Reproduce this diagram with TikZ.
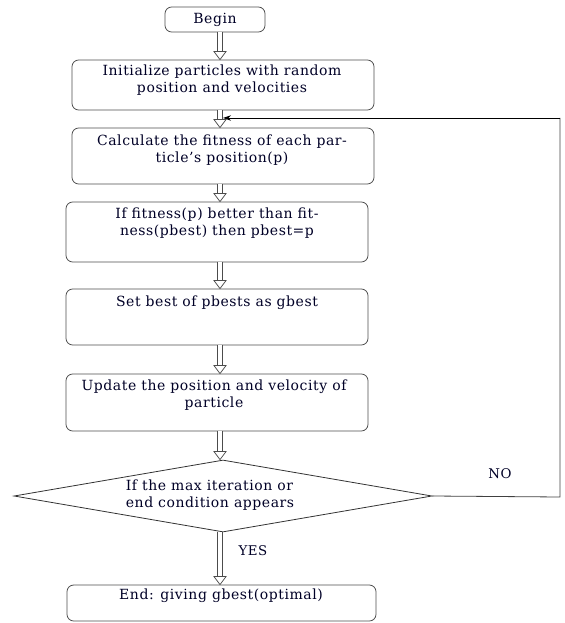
\documentclass[tikz,border=0pt]{standalone}
\usepackage{fontspec}
\setmainfont{DejaVu Serif}
\newfontfamily\boxfont[LetterSpace=4]{DejaVu Serif}
\usetikzlibrary{shapes.geometric,arrows.meta,calc}
\tikzset{
  box/.style={draw=gray!60!black, line width=0.6pt, rounded corners=5pt, minimum width=#1*0.75pt, inner sep=0pt},
  txt/.style={font=\boxfont\fontsize{10.5}{12.8}\selectfont, align=center, inner sep=0pt, text=black!85!blue},
  shaft/.style={draw=gray!60!black, double=white, double distance=3pt, line width=0.55pt},
  ahead/.style={draw=gray!60!black, fill=white, line width=0.55pt, line join=miter},
  fbline/.style={draw=black, line width=0.6pt},
  lbl/.style={font=\boxfont\fontsize{10}{11}\selectfont, inner sep=0pt, text=black!85!blue},
}
\newcommand\dblarr[2]{%
  \coordinate (tip-#2) at (#2.north -| ax);
  \draw[shaft] (#1.south -| ax) -- ($(tip-#2)+(0,-7)$);
  \draw[ahead] ($(tip-#2)+(-6,-8)$) -- (tip-#2) -- ($(tip-#2)+(6,-8)$) -- cycle;
}
\begin{document}
\begin{tikzpicture}[x=0.75pt,y=-0.75pt]
\useasboundingbox (0,0) rectangle (564,623);
\coordinate (ax) at (220,0);
% boxes
\node[box=100, minimum height=25*0.75pt] (begin) at (215,19.5) {};
\node[box=302, minimum height=50*0.75pt] (init) at (223,85) {};
\node[box=302, minimum height=56*0.75pt] (calc) at (223,156) {};
\node[box=302, minimum height=60*0.75pt] (fit) at (217,232) {};
\node[box=302, minimum height=56*0.75pt] (setb) at (217,317) {};
\node[box=302, minimum height=57*0.75pt] (upd) at (217,402.5) {};
\node[draw=gray!40!black, line width=0.6pt, diamond, minimum width=418*0.75pt, minimum height=72*0.75pt, inner sep=0pt, shape aspect=5.8] (dia) at (223,496) {};
\node[box=309, minimum height=36*0.75pt] (endb) at (221.5,603) {};
% texts
\node[txt] (tbegin) at (215,19.5) {Begin};
\node[txt] (tinit) at (222,80) {Initialize particles with random\\position and velocities};
\node[txt] (tcalc) at (222,150.5) {Calculate the fitness of each par-\\ticle’s position(p)};
\node[txt] (tfit) at (217,223) {If fitness(p) better than fit-\\ness(pbest) then pbest=p};
\node[txt] (tset) at (217,303) {Set best of pbests as gbest};
\node[txt] (tupd) at (214,395.5) {Update the position and velocity of\\particle};
\node[txt, align=left] (tdia) at (210,495.5) {If the max iteration or\\end condition appears};
\node[txt] (tend) at (221,596) {End: giving gbest(optimal)};
% arrows
\dblarr{begin}{init}
\dblarr{init}{calc}
\dblarr{calc}{fit}
\dblarr{fit}{setb}
\dblarr{setb}{upd}
\dblarr{upd}{dia}
\dblarr{dia}{endb}
% feedback loop
\coordinate (r1) at (560,497);
\coordinate (r2) at (560,118);
\coordinate (fb) at (223,118);
\draw[draw=gray!50!black, line width=0.6pt] (dia.east) -- (r1) -- (r2);
\draw[fbline, -{Stealth[length=6pt,width=4pt]}] (r2) -- (fb);
\node[lbl] (no) at (500,474) {NO};
\node[lbl] (yes) at (253,551) {YES};
\end{tikzpicture}
\end{document}
